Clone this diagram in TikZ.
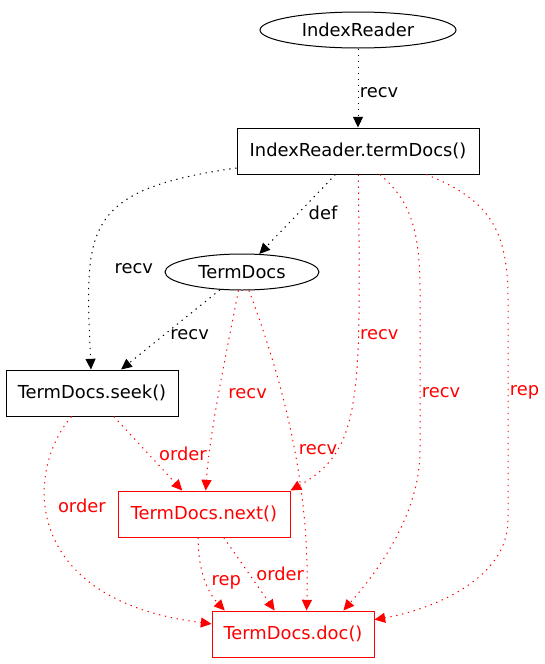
\documentclass[tikz,border=0pt]{standalone}
\usepackage{fontspec}
\setmainfont{DejaVu Sans}
\usepackage{xcolor}
\usetikzlibrary{shapes.geometric,arrows.meta}

\begin{document}
\begin{tikzpicture}[
  x=0.75pt, y=-0.75pt,
  font=\fontsize{13.4}{16}\selectfont,
  ell/.style={ellipse, draw, line width=0.75pt, inner sep=0pt, minimum height=27pt},
  box/.style={rectangle, draw, line width=0.75pt, inner sep=0pt, minimum height=34.5pt},
  hot/.style={draw=red, text=red},
  arr/.style={-{Triangle[length=8pt,width=7.5pt]}, line width=0.75pt, dash pattern=on 1pt off 3.5pt},
  rarr/.style={arr, red},
  lab/.style={inner sep=1pt}
]
\useasboundingbox (0,0) rectangle (544,664);
\node[ell, minimum width=147pt]   (ir)    at (358,30)  {IndexReader};
\node[box, minimum width=181.5pt] (td)    at (358,151) {IndexReader.termDocs()};
\node[ell, minimum width=115.5pt] (tdocs) at (242,272) {TermDocs};
\node[box, minimum width=129pt]   (seek)  at (92,393)  {TermDocs.seek()};
\node[box, hot, minimum width=129pt]   (next) at (204,514) {TermDocs.next()};
\node[box, hot, minimum width=121.5pt] (doc)  at (293,634) {TermDocs.doc()};
\draw[arr] (ir) -- node[lab, right, pos=0.56]{recv} (td);
\draw[arr] (td) -- node[lab, right=6pt, pos=0.48]{def} (tdocs);
\draw[arr] (td) .. controls (80,190) and (85,230) .. node[lab, right=17pt, pos=0.7]{recv} (seek);
\draw[arr] (tdocs) -- node[lab, right=3pt, pos=0.56]{recv} (seek);
\draw[rarr] (td) .. controls (361,400) and (362,450) .. node[lab, right, pos=0.3]{recv} (next.north east);
\draw[rarr] (td.-47) .. controls (410,200) and (420,230) .. (420,290) -- node[lab, right, pos=0.64]{recv} (420,450) .. controls (420,520) and (370,580) .. (doc.25);
\draw[rarr] (td.-19) .. controls (490,200) and (508,230) .. (508,300) -- node[lab, right, pos=0.42]{rep} (508,520) .. controls (508,580) and (430,610) .. (doc.10);
\draw[rarr] (tdocs) .. controls (225,360) and (210,430) .. node[lab, right=6pt, pos=0.5]{recv} (next);
\draw[rarr] (tdocs) .. controls (290,400) and (310,500) .. node[lab, right=2pt, pos=0.5]{recv} (doc.60);
\draw[rarr] (seek) -- node[lab, right=7pt, pos=0.5]{order} (next);
\draw[rarr] (seek) .. controls (25,470) and (20,600) .. node[lab, right=8pt, pos=0.4]{order} (doc);
\draw[rarr] (next.-104) .. controls (198,575) and (210,595) .. node[lab, right=3pt, pos=0.5]{rep} (doc.161);
\draw[rarr] (next.-50) -- node[lab, right=4pt, pos=0.5]{order} (doc.128);
\end{tikzpicture}
\end{document}
